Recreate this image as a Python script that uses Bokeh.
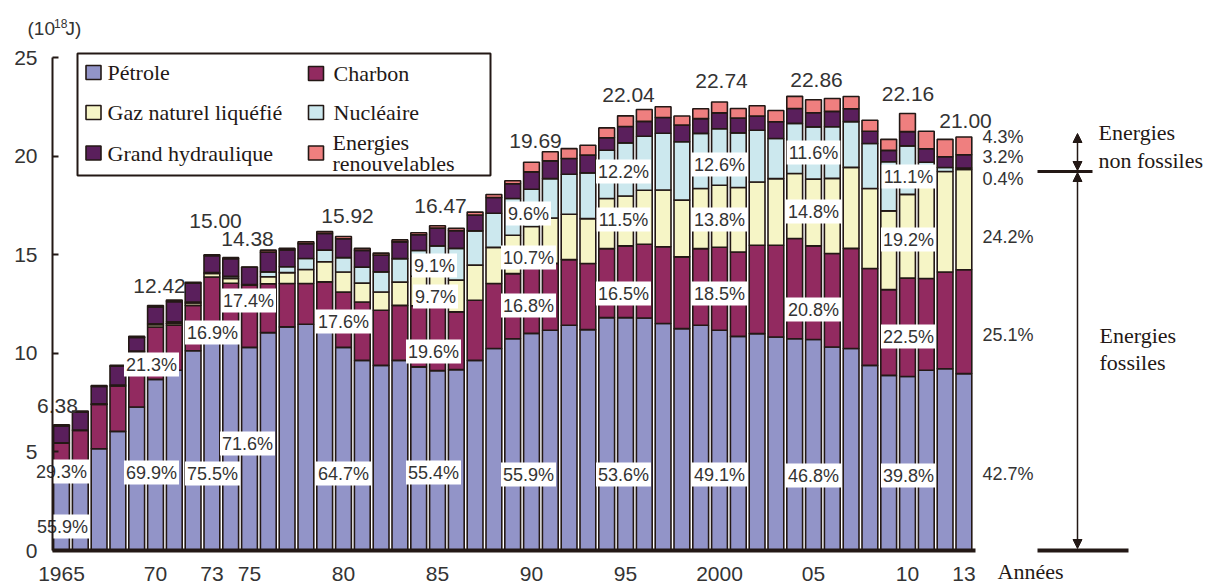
from bokeh.plotting import figure
from bokeh.models import ColumnDataSource, FixedTicker, Label, Arrow, NormalHead, Range1d
from bokeh.core.properties import value
from bokeh.embed import file_html
from bokeh.resources import INLINE

# ---------------- data (10^18 J) ----------------
years = list(range(1965, 2014))
petrole = [3.57, 4.10, 5.16, 6.04, 7.28, 8.68, 9.14, 10.13, 11.33, 11.10,
           10.30, 11.05, 11.34, 11.47, 11.30, 10.30, 9.64, 9.39, 9.64, 9.31,
           9.12, 9.17, 9.64, 10.24, 10.74, 11.01, 11.17, 11.42, 11.20, 11.81,
           11.81, 11.79, 11.51, 11.25, 11.42, 11.17, 10.86, 11.00, 10.83, 10.74,
           10.70, 10.32, 10.24, 9.39, 8.88, 8.82, 9.14, 9.22, 8.97]
charbon = [1.87, 1.99, 2.25, 2.30, 2.75, 2.65, 2.28, 2.30, 2.54, 2.45,
           3.15, 2.48, 2.20, 2.07, 2.32, 2.80, 2.96, 2.79, 2.79, 3.10,
           3.23, 2.93, 3.05, 3.30, 3.30, 3.31, 3.39, 3.33, 3.35, 3.50,
           3.64, 3.74, 3.89, 3.64, 3.89, 4.21, 4.28, 4.48, 4.65, 5.08,
           4.75, 4.74, 5.08, 4.91, 4.35, 4.99, 4.65, 4.90, 5.27]
gaz = [0.02, 0.02, 0.03, 0.05, 0.07, 0.12, 0.10, 0.12, 0.18, 0.25,
       0.02, 0.35, 0.55, 0.71, 1.02, 1.02, 0.96, 0.93, 1.18, 1.50,
       1.60, 1.61, 1.78, 1.83, 1.95, 2.11, 2.30, 2.30, 2.28, 2.54,
       2.53, 2.74, 2.88, 2.88, 3.05, 3.14, 3.27, 3.21, 3.38, 3.30,
       3.38, 3.81, 4.11, 4.06, 3.99, 4.25, 5.00, 5.10, 5.08]
nucleaire = [0.00, 0.00, 0.00, 0.00, 0.01, 0.05, 0.08, 0.05, 0.05, 0.10,
             0.01, 0.25, 0.30, 0.56, 0.59, 0.73, 0.81, 1.02, 1.19, 1.30,
             1.50, 1.61, 1.74, 1.73, 1.86, 1.89, 2.00, 2.03, 2.32, 2.45,
             2.69, 2.74, 2.88, 2.96, 2.79, 2.87, 2.77, 2.62, 2.03, 2.54,
             2.65, 2.62, 2.32, 2.28, 2.49, 2.46, 0.90, 0.20, 0.08]
hydraulique = [0.86, 0.90, 0.88, 0.95, 0.70, 0.85, 1.02, 0.95, 0.85, 0.90,
               0.88, 1.00, 0.85, 0.75, 0.85, 0.96, 0.85, 0.85, 0.85, 0.80,
               0.90, 0.90, 0.80, 0.80, 0.75, 0.88, 0.90, 0.80, 0.90, 0.63,
               0.83, 0.75, 0.80, 0.85, 0.75, 0.80, 0.75, 0.72, 0.85, 0.75,
               0.72, 0.78, 0.65, 0.62, 0.58, 0.72, 0.68, 0.55, 0.67]
renouvelables = [0.06, 0.06, 0.05, 0.05, 0.05, 0.07, 0.08, 0.05, 0.05, 0.05,
                 0.02, 0.10, 0.08, 0.10, 0.10, 0.11, 0.10, 0.10, 0.10, 0.10,
                 0.12, 0.12, 0.15, 0.15, 0.15, 0.49, 0.46, 0.50, 0.50, 0.50,
                 0.54, 0.60, 0.54, 0.45, 0.50, 0.55, 0.48, 0.52, 0.57, 0.62,
                 0.66, 0.65, 0.62, 0.56, 0.56, 0.92, 0.89, 0.88, 0.90]

series_names = ["Pétrole", "Charbon", "Gaz naturel liquéfié", "Nucléaire",
                "Grand hydraulique", "Energies renouvelables"]

total_years = [1965, 1970, 1973, 1975, 1980, 1985, 1990, 1995, 2000, 2005, 2010, 2013]
total_texts = ["6.38", "12.42", "15.00", "14.38", "15.92", "16.47",
               "19.69", "22.04", "22.74", "22.86", "22.16", "21.00"]

pct_texts = ["55.9%", "29.3%", "69.9%", "21.3%", "75.5%", "16.9%", "71.6%", "17.4%",
             "64.7%", "17.6%", "55.4%", "19.6%", "9.7%", "9.1%",
             "55.9%", "16.8%", "10.7%", "9.6%", "53.6%", "16.5%", "11.5%", "12.2%",
             "49.1%", "18.5%", "13.8%", "12.6%", "46.8%", "20.8%", "14.8%", "11.6%",
             "39.8%", "22.5%", "19.2%", "11.1%"]
pct2013_texts = ["42.7%", "25.1%", "24.2%", "0.4%", "3.2%", "4.3%"]

tick_years = [1965, 1970, 1973, 1975, 1980, 1985, 1990, 1995, 2000, 2005, 2010, 2013]
tick_texts = ["1965", "70", "73", "75", "80", "85", "90", "95", "2000", "05", "10", "13"]

# ---------------- layout helpers (page pixel -> data) ----------------
def px_x(px):
    return 1965 + (px - 61) / 18.8

def px_y(py):
    return (550 - py) / 19.72

# label placements (page pixels)
total_lab_px = [(57, 405), (159, 285), (215, 220), (247, 238.5), (347, 215), (440, 205),
                (535, 140), (628, 94.5), (721, 80.5), (816, 79.5), (907.5, 93.5), (965, 120.5)]
pct_lab_px = [(62, 526), (61, 471), (151, 472), (151, 364), (212, 473), (212, 332),
              (247, 443), (248, 300), (343, 473), (343, 321), (433, 472), (433, 351),
              (435, 296), (434, 265), (528, 474), (528, 305), (528, 257), (528, 213),
              (623, 474), (623, 293), (623, 219), (623, 171), (719, 474), (719, 293),
              (719, 219), (719, 164), (813, 475), (813, 309), (813, 211), (813, 152),
              (908, 475), (908, 336), (908, 239), (908, 176)]
pct2013_px_y = [473, 334, 236, 178, 156, 136]

colors = ["#9294C8", "#922A60", "#F6F5C6", "#CCE8EE", "#5A1F5C", "#EF7F7F"]
INK = "#231815"
TXT = "#333333"
SANS = "Liberation Sans"
SERIF = "Liberation Serif"

p = figure(width=1208, height=585, output_backend="svg", toolbar_location=None,
           x_range=Range1d(px_x(0), px_x(1208)), y_range=Range1d(px_y(585), px_y(0)),
           min_border_left=0, min_border_right=0, min_border_top=0, min_border_bottom=0)
p.outline_line_color = None
p.grid.visible = False
p.background_fill_color = "white"
p.border_fill_color = "white"

source = ColumnDataSource(dict(year=years, petrole=petrole, charbon=charbon, gaz=gaz,
                               nucleaire=nucleaire, hydraulique=hydraulique,
                               renouvelables=renouvelables))
stackers = ["petrole", "charbon", "gaz", "nucleaire", "hydraulique", "renouvelables"]
p.vbar_stack(stackers, x="year", width=0.84, fill_color=colors, line_color=INK,
             line_width=1.6, source=source)

# axes (placed at fixed data locations inside the plot area)
p.yaxis.fixed_location = px_x(52)
p.yaxis.ticker = FixedTicker(ticks=[0, 5, 10, 15, 20, 25])
p.yaxis.bounds = (0, 25)
p.yaxis.axis_line_color = INK
p.yaxis.axis_line_width = 2
p.yaxis.major_tick_in = 6
p.yaxis.major_tick_out = 0
p.yaxis.major_tick_line_color = INK
p.yaxis.major_tick_line_width = 2
p.yaxis.minor_tick_line_color = None
p.yaxis.major_label_standoff = 15
p.yaxis.major_label_text_font = SANS
p.yaxis.major_label_text_font_size = "21px"
p.yaxis.major_label_text_color = TXT

p.xaxis.fixed_location = 0
p.xaxis.ticker = FixedTicker(ticks=tick_years)
p.xaxis.major_label_overrides = {y: t for y, t in zip(tick_years, tick_texts)}
p.xaxis.bounds = (px_x(52), px_x(975))
p.xaxis.axis_line_color = INK
p.xaxis.axis_line_width = 4
p.xaxis.major_tick_line_color = None
p.xaxis.minor_tick_line_color = None
p.xaxis.major_tick_in = 0
p.xaxis.major_tick_out = 0
p.xaxis.major_label_standoff = 16
p.xaxis.major_label_text_font = SANS
p.xaxis.major_label_text_font_size = "21px"
p.xaxis.major_label_text_color = TXT

# total labels
p.text(x=[px_x(a) for a, b in total_lab_px], y=[px_y(b) for a, b in total_lab_px],
       text=total_texts, text_align="center", text_baseline="middle",
       text_font=value(SANS), text_font_size="21px", text_color=TXT)

# percentage labels with white boxes
p.text(x=[px_x(a) for a, b in pct_lab_px], y=[px_y(b) for a, b in pct_lab_px],
       text=pct_texts, text_align="center", text_baseline="middle",
       text_font=value(SANS), text_font_size="18px", text_color=TXT,
       background_fill_color="white", padding=2)

p.text(x=[px_x(982)] * len(pct2013_texts), y=[px_y(b) for b in pct2013_px_y],
       text=pct2013_texts, text_align="left", text_baseline="middle",
       text_font=value(SANS), text_font_size="18px", text_color=TXT)

# legend (manual)
p.quad(left=[px_x(77)], right=[px_x(490)], top=[px_y(53)], bottom=[px_y(175)],
       fill_color="white", line_color=INK, line_width=2)
sw_px = [(93, 72), (315.5, 73), (93, 112), (315.5, 112), (93, 152.5), (315.5, 152.5)]
p.rect(x=[px_x(a) for a, b in sw_px], y=[px_y(b) for a, b in sw_px],
       width=15 / 18.8, height=14 / 19.72, fill_color=colors,
       line_color=INK, line_width=1.6)
leg_txt = [series_names[0], series_names[1], series_names[2], series_names[3],
           series_names[4], "Energies", "renouvelables"]
leg_px = [(107, 72), (333, 73), (107, 112), (333, 112), (107, 153), (332, 142), (332, 163)]
p.text(x=[px_x(a) for a, b in leg_px], y=[px_y(b) for a, b in leg_px], text=leg_txt,
       text_align="left", text_baseline="middle", text_font=value(SERIF),
       text_font_size="22px", text_color=INK)

# right annotation
xa = px_x(1077)
head = dict(size=9, fill_color=INK, line_color=INK)
p.add_layout(Arrow(start=NormalHead(**head), end=NormalHead(**head), x_start=xa, x_end=xa,
                   y_start=px_y(170), y_end=px_y(133), line_color=INK, line_width=1.5))
p.add_layout(Arrow(start=NormalHead(**head), end=NormalHead(**head), x_start=xa, x_end=xa,
                   y_start=px_y(172), y_end=px_y(548), line_color=INK, line_width=1.5))
p.segment(x0=[px_x(1037), px_x(1037)], x1=[px_x(1092), px_x(1128)],
          y0=[px_y(171), 0], y1=[px_y(171), 0], line_color=INK, line_width=[3, 4])
ann_txt = ["Energies", "non fossiles", "Energies", "fossiles", "Années"]
ann_px = [(1098, 132), (1098, 160), (1099, 335), (1099, 362), (997, 571)]
p.text(x=[px_x(a) for a, b in ann_px], y=[px_y(b) for a, b in ann_px], text=ann_txt,
       text_align="left", text_baseline="middle", text_font=value(SERIF),
       text_font_size="22px", text_color=INK)

# unit
p.add_layout(Label(x=px_x(27), y=px_y(28), text="(10", text_font=SANS,
                   text_font_size="19px", text_color=TXT, text_baseline="middle"))
p.add_layout(Label(x=px_x(53.5), y=px_y(23), text="18", text_font=SANS,
                   text_font_size="12px", text_color=TXT, text_baseline="middle"))
p.add_layout(Label(x=px_x(65), y=px_y(28), text="J)", text_font=SANS,
                   text_font_size="19px", text_color=TXT, text_baseline="middle"))

open("out.html", "w").write(file_html(p, INLINE))
